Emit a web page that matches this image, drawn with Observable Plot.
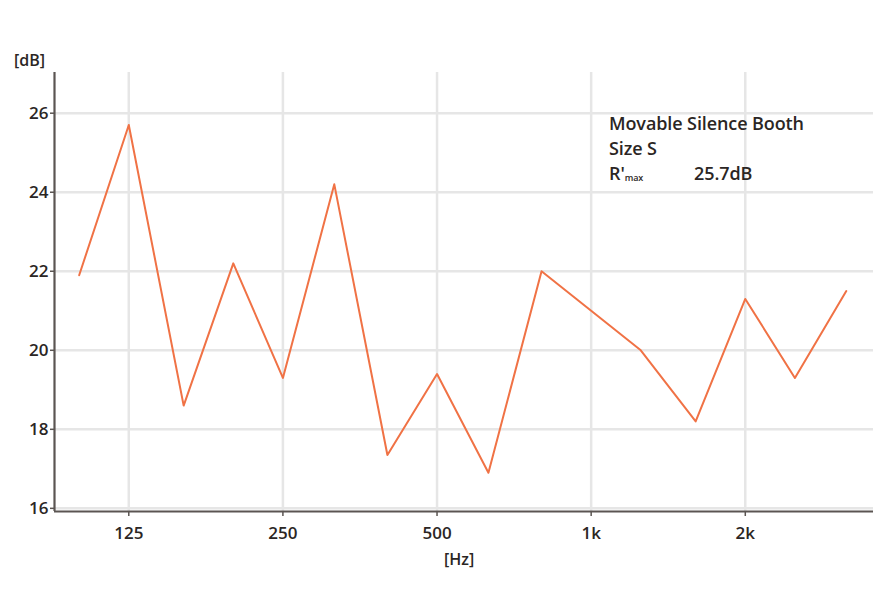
<!DOCTYPE html>
<html>
<head>
<meta charset="utf-8">
<script src="https://cdn.jsdelivr.net/npm/d3@7"></script>
<script src="https://cdn.jsdelivr.net/npm/@observablehq/plot@0.6"></script>
<style>
  html, body { margin: 0; padding: 0; background: #fff; }
  #wrap { position: relative; width: 880px; height: 600px; }
  #legend { position: absolute; left: 609px; top: 111px; font-family: "Open Sans", sans-serif; font-weight: 600; font-size: 18px; color: #2b2624; line-height: 25px; letter-spacing: -0.1px; white-space: nowrap; }
  #legend .row { position: relative; height: 25px; }
  #legend sub { font-size: 9px; vertical-align: baseline; position: relative; top: 1px; }
  #legend .val { position: absolute; left: 85px; top: 0; }
  .unit { position: absolute; font-family: "Open Sans", sans-serif; font-weight: 600; font-size: 16px; color: #2b2624; line-height: 20px; }
</style>
</head>
<body>
<div id="wrap">
  <div id="chart"></div>
  <div id="legend">
    <div class="row">Movable Silence Booth</div>
    <div class="row">Size S</div>
    <div class="row">R'<sub>max</sub><span class="val">25.7dB</span></div>
  </div>
  <div class="unit" style="left:14px; top:50px;">[dB]</div>
  <div class="unit" style="left:444px; top:549px;">[Hz]</div>
</div>
<script>
const freqs = [100, 125, 160, 200, 250, 315, 400, 500, 630, 800, 1000, 1250, 1600, 2000, 2500, 3150];
const values = [21.9, 25.7, 18.6, 22.2, 19.3, 24.2, 17.35, 19.4, 16.9, 22.0, 21.0, 20.0, 18.2, 21.3, 19.3, 21.5];
const xTicks = [125, 250, 500, 1000, 2000];
const xTickLabels = ["125", "250", "500", "1k", "2k"];
const yTicks = [16, 18, 20, 22, 24, 26];

const data = freqs.map((f, i) => ({f, v: values[i]}));
const axisColor = "#5b5552";
const gridColor = "#e6e6e6";

const chart = Plot.plot({
  width: 880,
  height: 600,
  marginLeft: 54,
  marginRight: 7,
  marginTop: 72,
  marginBottom: 89,
  style: {fontFamily: "'Open Sans', sans-serif", fontWeight: 600, fontSize: "17px", color: "#2b2624", background: "#fff"},
  x: {type: "log", domain: [89.5, 3560]},
  y: {domain: [15.92, 27.03]},
  marks: [
    Plot.ruleX(xTicks, {stroke: gridColor, strokeWidth: 2.5}),
    Plot.ruleY(yTicks, {stroke: gridColor, strokeWidth: 2.5}),
    Plot.axisX({ticks: xTicks, tickFormat: d => xTickLabels[xTicks.indexOf(d)], tickSize: 5, tickPadding: 10, stroke: axisColor, strokeWidth: 1.5, label: null, fontSize: 17, letterSpacing: -0.3}),
    Plot.axisY({ticks: yTicks, tickSize: 4, tickPadding: 2, stroke: axisColor, strokeWidth: 1.5, label: null, fontSize: 17, letterSpacing: -0.5}),
    Plot.ruleY([15.92], {stroke: axisColor, strokeWidth: 2.2}),
    Plot.ruleX([89.5], {stroke: axisColor, strokeWidth: 2.2}),
    Plot.line(data, {x: "f", y: "v", stroke: "#f07245", strokeWidth: 2})
  ]
});
document.getElementById("chart").appendChild(chart);
</script>
</body>
</html>
